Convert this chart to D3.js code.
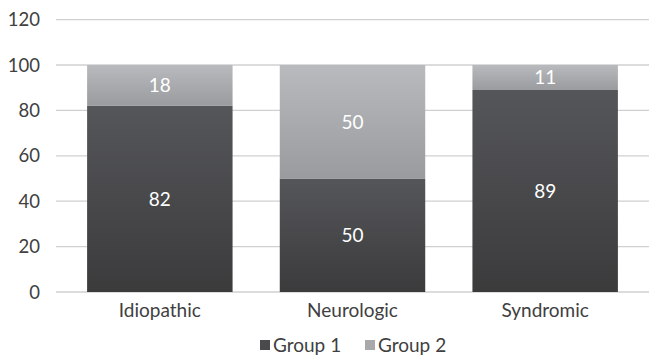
<!DOCTYPE html>
<html>
<head>
<meta charset="utf-8">
<script src="https://cdn.jsdelivr.net/npm/d3@7"></script>
<style>
  body { margin: 0; background: #fff; }
  svg { display: block; font-family: Lato, 'Open Sans', sans-serif; }
</style>
</head>
<body>
<script>
// Stacked percent bars, two groups per category.
const categories = ['Idiopathic', 'Neurologic', 'Syndromic'];
const group1 = [82, 50, 89];
const group2 = [18, 50, 11];
const seriesNames = ['Group 1', 'Group 2'];
const yTicks = [0, 20, 40, 60, 80, 100, 120];

const width = 649, height = 356;

const svg = d3.select('body').append('svg')
    .attr('width', width)
    .attr('height', height);

const defs = svg.append('defs');
function addGradient(id, top, bottom) {
    let g = defs.append('linearGradient')
        .attr('id', id)
        .attr('x1', 0).attr('y1', 0).attr('x2', 0).attr('y2', 1);
    g.append('stop').attr('offset', '0%').attr('stop-color', top);
    g.append('stop').attr('offset', '100%').attr('stop-color', bottom);
}
addGradient('g1', '#55565a', '#3b3b3c');
addGradient('g2', '#b9babd', '#9a9b9e');

const x = d3.scaleBand()
    .domain(categories)
    .range([63.5, 641.5])
    .paddingInner(0.245)
    .paddingOuter(0.1225);

const y = d3.scaleLinear()
    .domain([0, 120])
    .range([292, 19.6]);

// gridlines
svg.append('g')
    .selectAll('line')
    .data(yTicks)
    .join('line')
        .attr('x1', 56)
        .attr('x2', width)
        .attr('y1', d => y(d))
        .attr('y2', d => y(d))
        .attr('stroke', '#d0d0d0')
        .attr('stroke-width', 1.3);

// y tick labels
svg.append('g')
    .selectAll('text')
    .data(yTicks)
    .join('text')
        .attr('x', 40)
        .attr('y', d => y(d))
        .attr('dy', '0.36em')
        .attr('text-anchor', 'end')
        .attr('font-size', 18.5)
        .attr('fill', '#404040')
        .text(d => d);

const rows = categories.map((c, i) => ({cat: c, values: [group1[i], group2[i]]}));
const stack = d3.stack().keys([0, 1]).value((d, k) => d.values[k]);
const layers = stack(rows);
const fills = ['url(#g1)', 'url(#g2)'];

layers.forEach((layer, k) => {
    let g = svg.append('g');
    g.selectAll('rect')
        .data(layer)
        .join('rect')
            .attr('x', d => x(d.data.cat))
            .attr('width', x.bandwidth())
            .attr('y', d => y(d[1]))
            .attr('height', d => y(d[0]) - y(d[1]))
            .attr('fill', fills[k]);
    g.selectAll('text')
        .data(layer)
        .join('text')
            .attr('x', d => x(d.data.cat) + x.bandwidth() / 2)
            .attr('y', d => (y(d[0]) + y(d[1])) / 2)
            .attr('dy', '0.36em')
            .attr('text-anchor', 'middle')
            .attr('font-size', 19)
            .attr('fill', '#ffffff')
            .text(d => d.data.values[k]);
});

// category labels
svg.append('g')
    .selectAll('text')
    .data(categories)
    .join('text')
        .attr('x', d => x(d) + x.bandwidth() / 2)
        .attr('y', 310)
        .attr('dy', '0.36em')
        .attr('text-anchor', 'middle')
        .attr('font-size', 19)
        .attr('fill', '#404040')
        .text(d => d);

// legend
const legendColors = ['#4a4a4c', '#a9a9ab'];
const legendX = [260, 365];
const legend = svg.append('g');
seriesNames.forEach((name, i) => {
    legend.append('rect')
        .attr('x', legendX[i])
        .attr('y', 340)
        .attr('width', 10)
        .attr('height', 10)
        .attr('fill', legendColors[i]);
    legend.append('text')
        .attr('x', legendX[i] + 13)
        .attr('y', 345)
        .attr('dy', '0.36em')
        .attr('font-size', 19)
        .attr('fill', '#404040')
        .text(name);
});
</script>
</body>
</html>
